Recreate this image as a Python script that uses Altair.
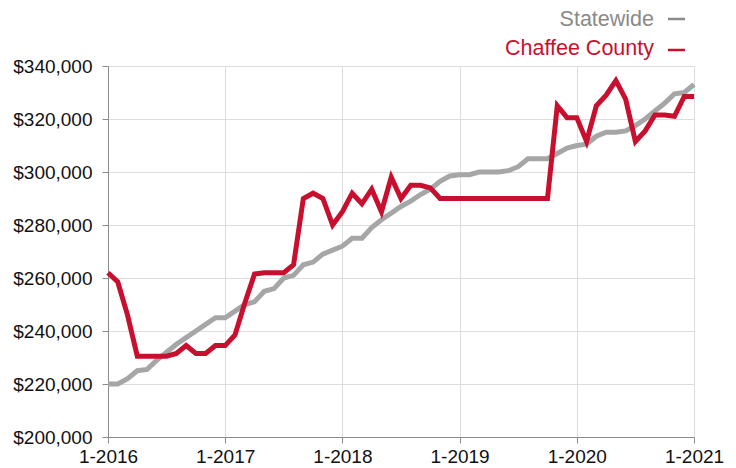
import altair as alt
import pandas as pd

# Month index 0 = Jan 2016 ... 60 = Jan 2021
tick_labels = ["1-2016", "1-2017", "1-2018", "1-2019", "1-2020", "1-2021"]

statewide = [
    220000, 220000, 222000, 225000, 225500, 229000, 232000, 235000, 237500, 240000,
    242500, 245000, 245000, 247500, 250000, 251000, 255000, 256000, 260000, 261000,
    265000, 266000, 269000, 270500, 272000, 275000, 275000, 279000, 282000, 284500,
    287000, 289000, 291500, 293500, 296500, 298500, 299000, 299000, 300000, 300000,
    300000, 300500, 302000, 305000, 305000, 305000, 307000, 309000, 310000, 310500,
    313500, 315000, 315000, 315500, 317500, 320000, 323000, 326000, 329500, 330000,
    333000,
]

chaffee = [
    262000, 258500, 246000, 230500, 230500, 230500, 230500, 231500, 234500, 231500,
    231500, 234500, 234500, 238500, 250500, 261500, 262000, 262000, 262000, 265000,
    290000, 292000, 290000, 280000, 285000, 292000, 288000, 293500, 285000, 298000,
    290000, 295000, 295000, 294000, 290000, 290000, 290000, 290000, 290000, 290000,
    290000, 290000, 290000, 290000, 290000, 290000, 325000, 320500, 320500, 311500,
    325000, 329000, 334500, 327500, 311500, 315500, 321500, 321500, 321000, 328500,
    328500,
]

series_names = ["Statewide", "Chaffee County"]
series_colors = ["#a6a6a6", "#c8102e"]
legend_text_colors = ["#8a8a8a", "#c8102e"]

rows = []
for i, v in enumerate(statewide):
    rows.append({"m": i, "value": v, "series": series_names[0]})
for i, v in enumerate(chaffee):
    rows.append({"m": i, "value": v, "series": series_names[1]})
df = pd.DataFrame(rows)

label_expr = "[" + ",".join("'" + t + "'" for t in tick_labels) + "][round(datum.value/12)]"

x_enc = alt.X(
    "m:Q",
    scale=alt.Scale(domain=[0, 60], nice=False, zero=False),
    axis=alt.Axis(
        values=[0, 12, 24, 36, 48, 60],
        labelExpr=label_expr,
        title=None,
        grid=True,
        gridColor="#dddddd",
        domainColor="#8c8c8c",
        tickColor="#8c8c8c",
        tickSize=6,
        labelPadding=4,
        labelFontSize=19,
        labelFont="Liberation Sans",
        labelColor="#111111",
        labelFlush=False,
    ),
)
y_enc = alt.Y(
    "value:Q",
    scale=alt.Scale(domain=[200000, 340000], nice=False, zero=False),
    axis=alt.Axis(
        values=[200000, 220000, 240000, 260000, 280000, 300000, 320000, 340000],
        format="$,.0f",
        title=None,
        grid=True,
        gridColor="#dddddd",
        domainColor="#8c8c8c",
        tickColor="#8c8c8c",
        tickSize=6,
        labelPadding=10,
        labelFontSize=19,
        labelFont="Liberation Sans",
        labelColor="#111111",
    ),
)

lines = alt.Chart(df).mark_line(strokeWidth=5, strokeJoin="miter", strokeCap="butt").encode(
    x=x_enc,
    y=y_enc,
    color=alt.Color("series:N", scale=alt.Scale(domain=series_names, range=series_colors), legend=None),
    order=alt.Order("m:Q"),
    detail="series:N",
)

leg_df = pd.DataFrame({
    "name": series_names,
    "ty": [-40, -11],
    "dy": [-47, -16],
    "tcolor": legend_text_colors,
})

leg_text = alt.Chart(leg_df).mark_text(
    align="right", baseline="alphabetic", fontSize=21.5, font="Liberation Sans"
).encode(
    text="name:N",
    x=alt.value(546),
    y=alt.Y("ty:Q", scale=None),
    color=alt.Color("tcolor:N", scale=None),
)

leg_dash = alt.Chart(leg_df).mark_rule(strokeWidth=2.5).encode(
    x=alt.value(560),
    x2=alt.value(577),
    y=alt.Y("dy:Q", scale=None),
    color=alt.Color("tcolor:N", scale=None),
)

chart = alt.layer(lines, leg_text, leg_dash).properties(
    width=586,
    height=371,
    autosize=alt.AutoSizeParams(type="none"),
    padding={"left": 100, "top": 58, "right": 34, "bottom": 31},
).configure_view(stroke="#8c8c8c", strokeWidth=1).configure(background="white")

chart.save("out.html", embed_options={"renderer": "svg", "actions": False})
